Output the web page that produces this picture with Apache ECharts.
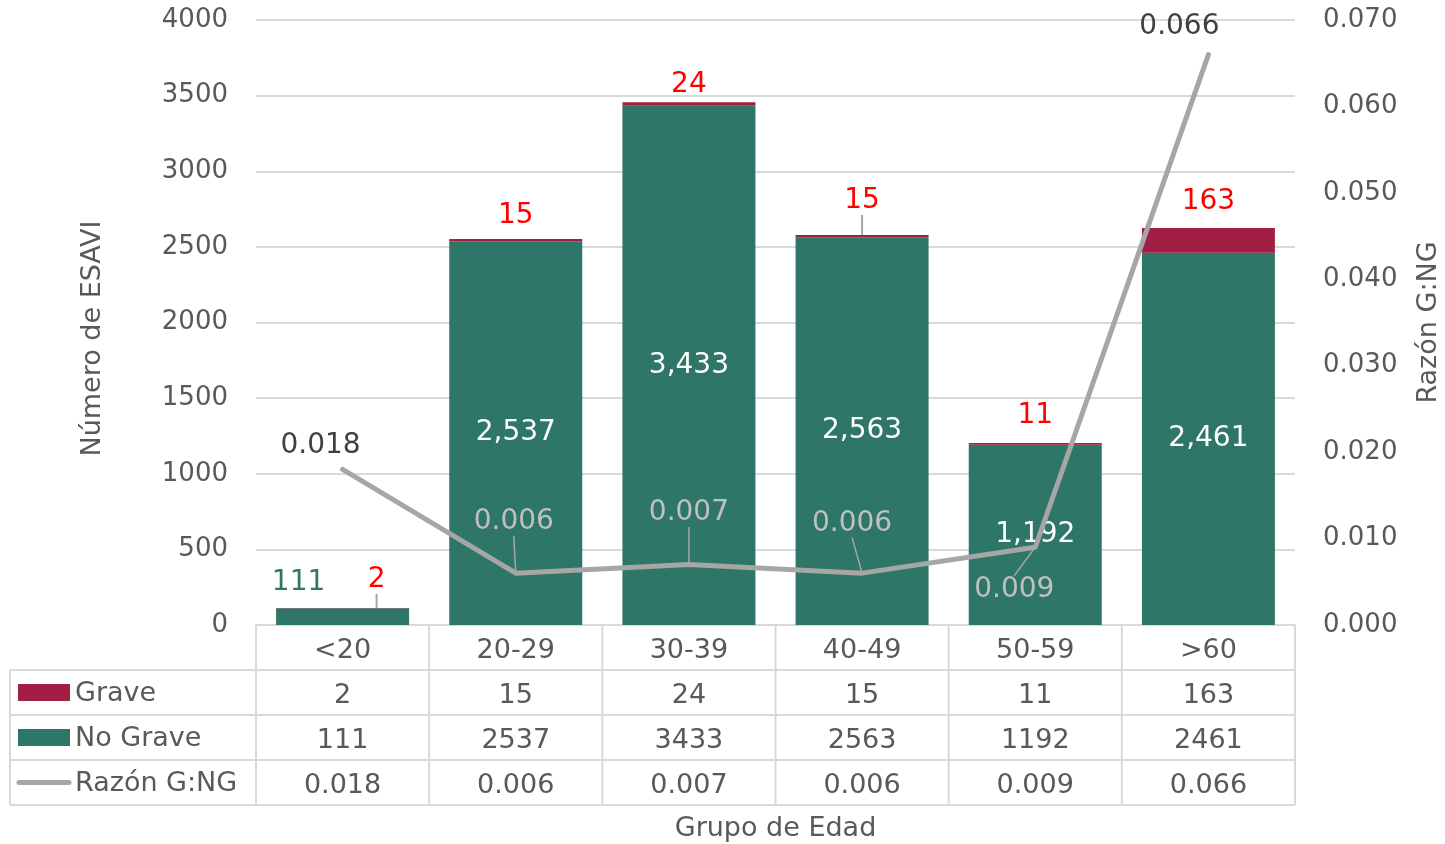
<!DOCTYPE html>
<html>
<head>
<meta charset="utf-8">
<script src="https://cdn.jsdelivr.net/npm/echarts@6/dist/echarts.min.js"></script>
<style>html,body{margin:0;padding:0;background:#fff;}#c{width:1445px;height:844px;}</style>
</head>
<body>
<div id="c"></div>
<script>
const categories = ['<20', '20-29', '30-39', '40-49', '50-59', '>60'];
const grave = [2, 15, 24, 15, 11, 163];
const noGrave = [111, 2537, 3433, 2563, 1192, 2461];
const ratio = [0.018, 0.006, 0.007, 0.006, 0.009, 0.066];
const leftTicks = { min: 0, max: 4000, interval: 500 };
const rightTicks = { min: 0, max: 0.07, interval: 0.01 };

const FONT = 'DejaVu Sans';
const GREEN = '#2e7667', RED = '#a21f44', GRAY = '#a6a6a6', TXT = '#595959', GRID = '#d9d9d9';
const L = 256, R = 1295, T = 20, B = 625, ROW = 45, TABLE_LEFT = 10;

// label displacements (layout only)
const graveShift = [[34, -9], [0, -4], [0, 2], [0, -15], [0, -8], [0, -7]];
const graveLine = [true, false, false, true, false, false];
const ratioShift = [[-22, -4], [-2, -32], [0, -32], [-10, -30], [-21, 62], [-29, -8]];
const ratioLine = [false, true, true, true, true, false];
const ratioColor = ['#404040', '#c0c0c0', '#c0c0c0', '#c0c0c0', '#c0c0c0', '#404040'];

const chart = echarts.init(document.getElementById('c'));
const n = categories.length;
const cw = (R - L) / n;

const graphics = [];
[B + ROW, B + 2 * ROW, B + 3 * ROW, B + 4 * ROW].forEach((y) => {
  graphics.push({ type: 'line', shape: { x1: TABLE_LEFT, y1: y, x2: R, y2: y }, style: { stroke: GRID, lineWidth: 2 }, silent: true });
});
for (let i = 0; i <= n; i++) {
  const x = L + i * cw;
  graphics.push({ type: 'line', shape: { x1: x, y1: B, x2: x, y2: B + 4 * ROW }, style: { stroke: GRID, lineWidth: 2 }, silent: true });
}
graphics.push({ type: 'line', shape: { x1: TABLE_LEFT, y1: B + ROW, x2: TABLE_LEFT, y2: B + 4 * ROW }, style: { stroke: GRID, lineWidth: 2 }, silent: true });
const keyNames = ['Grave', 'No Grave', 'Razón G:NG'];
keyNames.forEach((name, i) => {
  const cy = B + ROW * (i + 1) + ROW / 2;
  if (i < 2) {
    graphics.push({ type: 'rect', shape: { x: 18, y: cy - 8.5, width: 52, height: 17 }, style: { fill: i === 0 ? RED : GREEN }, silent: true });
  } else {
    graphics.push({ type: 'line', shape: { x1: 19, y1: cy, x2: 69, y2: cy }, style: { stroke: GRAY, lineWidth: 5, lineCap: 'round' }, silent: true });
  }
  graphics.push({ type: 'text', x: 75, y: cy + 1, style: { text: name, font: '27px "' + FONT + '"', fill: TXT, verticalAlign: 'middle' }, silent: true });
});

const option = {
  backgroundColor: '#fff',
  animation: false,
  textStyle: { fontFamily: FONT },
  grid: { left: L, right: 1445 - R, top: T, bottom: 844 - B, outerBoundsMode: 'none', containLabel: false },
  xAxis: {
    type: 'category',
    data: categories,
    axisLine: { show: true, lineStyle: { color: GRID, width: 2 } },
    axisTick: { show: false },
    name: 'Grupo de Edad',
    nameLocation: 'middle',
    nameGap: 190,
    nameTextStyle: { fontSize: 27, color: TXT, fontFamily: FONT },
    axisLabel: {
      margin: 3,
      interval: 0,
      formatter: function (v, i) {
        return '{c|' + v + '}\n{c|' + grave[i] + '}\n{c|' + noGrave[i] + '}\n{c|' + ratio[i].toFixed(3) + '}';
      },
      rich: { c: { fontSize: 27, color: TXT, lineHeight: ROW, fontFamily: FONT, align: 'center' } }
    }
  },
  yAxis: [
    {
      type: 'value', min: leftTicks.min, max: leftTicks.max, interval: leftTicks.interval,
      name: 'Número de ESAVI', nameLocation: 'middle', nameGap: 150, nameRotate: 90,
      nameTextStyle: { fontSize: 27, color: TXT, fontFamily: FONT, padding: [0, 32, 0, 0] },
      axisLabel: { fontSize: 26, color: TXT, margin: 28, fontFamily: FONT, formatter: v => String(v) },
      axisLine: { show: false }, axisTick: { show: false },
      splitLine: { lineStyle: { color: GRID, width: 2 } }
    },
    {
      type: 'value', min: rightTicks.min, max: rightTicks.max, interval: rightTicks.interval,
      name: 'Razón G:NG', nameLocation: 'middle', nameGap: 120, nameRotate: 90,
      nameTextStyle: { fontSize: 27, color: TXT, fontFamily: FONT },
      axisLabel: { fontSize: 26, color: TXT, margin: 28, fontFamily: FONT, formatter: v => v.toFixed(3) },
      axisLine: { show: false }, axisTick: { show: false },
      splitLine: { show: false }
    }
  ],
  series: [
    {
      name: 'No Grave', type: 'bar', stack: 'total', barWidth: 133,
      itemStyle: { color: GREEN },
      data: noGrave.map((v, i) => i === 0
        ? { value: v, label: { position: 'top', color: GREEN, offset: [-44, -6] } }
        : v),
      label: {
        show: true, position: 'inside', color: '#ffffff', fontSize: 28, fontFamily: FONT,
        formatter: p => p.value.toLocaleString('en-US')
      }
    },
    {
      name: 'Grave', type: 'bar', stack: 'total', barWidth: 133,
      itemStyle: { color: RED },
      data: grave.map((v, i) => ({ value: v, labelLine: { show: graveLine[i] } })),
      label: { show: true, position: 'top', distance: 5, color: '#ff0000', fontSize: 28, fontFamily: FONT },
      labelLine: { show: true, lineStyle: { color: GRAY, width: 2 } },
      labelLayout: p => ({ dx: graveShift[p.dataIndex][0], dy: graveShift[p.dataIndex][1] })
    },
    {
      name: 'Razón G:NG', type: 'line', yAxisIndex: 1, z: 5,
      symbol: 'circle', symbolSize: 1, showSymbol: true,
      lineStyle: { color: GRAY, width: 5, cap: 'round', join: 'round' },
      itemStyle: { color: GRAY },
      data: ratio.map((v, i) => ({ value: v, label: { color: ratioColor[i] }, labelLine: { show: ratioLine[i] } })),
      label: { show: true, position: 'top', distance: 5, fontSize: 28, fontFamily: FONT, formatter: p => p.value.toFixed(3) },
      labelLine: { show: true, lineStyle: { color: GRAY, width: 1.5 } },
      labelLayout: p => ({ dx: ratioShift[p.dataIndex][0], dy: ratioShift[p.dataIndex][1] })
    }
  ],
  graphic: graphics
};
chart.setOption(option);
</script>
</body>
</html>
